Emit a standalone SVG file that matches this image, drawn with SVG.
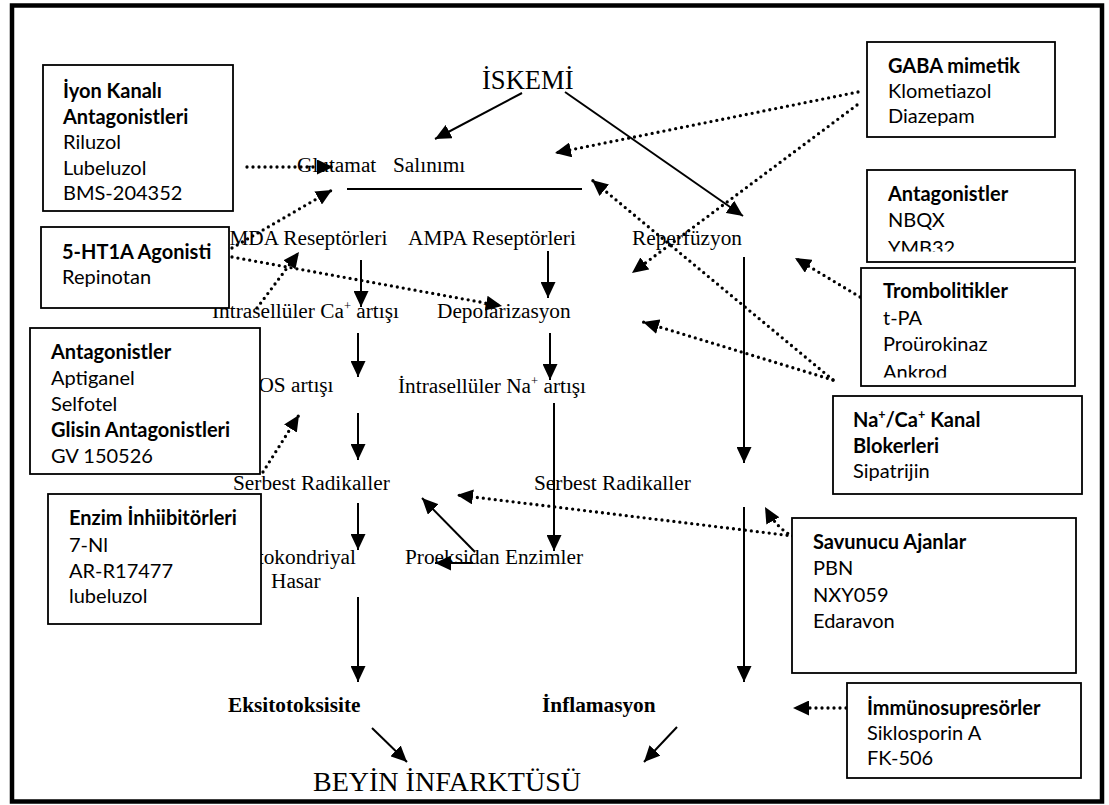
<svg xmlns="http://www.w3.org/2000/svg" width="1109" height="805" viewBox="0 0 1109 805">
<defs>
<style>
.t{font-family:"Liberation Serif","Times New Roman",serif;font-size:21.3px;fill:#000}
.tb{font-weight:bold}
.big{font-size:26.6px}
.bx rect{fill:#fff;stroke:#000;stroke-width:1.8}
.bx text{font-family:Lato,"Open Sans",sans-serif;font-size:20px;fill:#000}
.bx .h{font-weight:bold}
.sol{fill:none;stroke:#000;stroke-width:2}
.dot{fill:none;stroke:#000;stroke-width:3.3;stroke-linecap:round;stroke-dasharray:0 6}
.sup{font-size:12.5px}
</style>
<marker id="ah" markerUnits="userSpaceOnUse" markerWidth="17" markerHeight="15" refX="16" refY="7.5" orient="auto"><path d="M0,0 L16,7.5 L0,15 z" fill="#000"/></marker>
<marker id="ad" markerUnits="userSpaceOnUse" markerWidth="17" markerHeight="15" refX="16" refY="7.5" orient="auto"><path d="M0,0 L16,7.5 L0,15 z" fill="#000"/></marker>
<clipPath id="cGaba"><rect x="867" y="42" width="188" height="84.5"/></clipPath>
<clipPath id="cAnt2"><rect x="867" y="170" width="208" height="81.5"/></clipPath>
<clipPath id="cTrom"><rect x="861" y="268" width="214" height="109.5"/></clipPath>
</defs>
<rect x="12" y="5.5" width="1090" height="796" fill="#fff" stroke="#000" stroke-width="4.5"/>

<g id="n-iskemi"><text class="t big" x="482" y="89">İSKEMİ</text></g>
<g id="n-glutamat"><text class="t" y="172"><tspan x="297">Glutamat</tspan><tspan x="393">Salınımı</tspan></text></g>
<g id="n-nmda"><text class="t" x="214" y="245">NMDA Reseptörleri</text></g>
<g id="n-ampa"><text class="t" x="408" y="245">AMPA Reseptörleri</text></g>
<g id="n-reperfuzyon"><text class="t" x="632" y="245">Reperfüzyon</text></g>
<g id="n-ca"><text class="t" x="212" y="318">İntrasellüler Ca<tspan class="sup" dy="-8">+</tspan><tspan dy="8"> artışı</tspan></text></g>
<g id="n-depol"><text class="t" x="437" y="318">Depolarizasyon</text></g>
<g id="n-nos"><text class="t" x="243" y="392">NOS artışı</text></g>
<g id="n-na"><text class="t" x="398" y="393">İntrasellüler Na<tspan class="sup" dy="-8">+</tspan><tspan dy="8"> artışı</tspan></text></g>
<g id="n-serbest1"><text class="t" x="233" y="490">Serbest Radikaller</text></g>
<g id="n-serbest2"><text class="t" x="534" y="490">Serbest Radikaller</text></g>
<g id="n-mito"><text class="t" x="356" y="564" text-anchor="end">Mitokondriyal</text><text class="t" x="271" y="588">Hasar</text></g>
<g id="n-proeks"><text class="t" x="405" y="564">Proeksidan Enzimler</text></g>
<g id="n-eksito"><text class="t tb" x="228" y="712">Eksitotoksisite</text></g>
<g id="n-inflam"><text class="t tb" x="542" y="712">İnflamasyon</text></g>
<g id="n-infarkt"><text class="t" x="313" y="791" style="font-size:27px" textLength="268" lengthAdjust="spacingAndGlyphs">BEYİN İNFARKTÜSÜ</text></g>

<g id="connectors">
<line class="sol" x1="522" y1="93" x2="435" y2="139" marker-end="url(#ah)"/>
<line class="sol" x1="565" y1="92" x2="743" y2="216" marker-end="url(#ah)"/>
<line class="sol" x1="347" y1="189" x2="582" y2="189"/>
<line class="sol" x1="361" y1="260" x2="361" y2="307" marker-end="url(#ah)"/>
<line class="sol" x1="548" y1="251" x2="548" y2="298" marker-end="url(#ah)"/>
<line class="sol" x1="744" y1="257" x2="744" y2="463" marker-end="url(#ah)"/>
<line class="sol" x1="744" y1="507" x2="744" y2="682" marker-end="url(#ah)"/>
<line class="sol" x1="358" y1="333" x2="358" y2="377" marker-end="url(#ah)"/>
<line class="sol" x1="358" y1="413" x2="358" y2="460" marker-end="url(#ah)"/>
<line class="sol" x1="358" y1="503" x2="358" y2="550" marker-end="url(#ah)"/>
<line class="sol" x1="358" y1="597" x2="358" y2="682" marker-end="url(#ah)"/>
<line class="sol" x1="550" y1="333" x2="550" y2="380" marker-end="url(#ah)"/>
<line class="sol" x1="554" y1="403" x2="554" y2="551" marker-end="url(#ah)"/>
<line class="sol" x1="475" y1="552" x2="422" y2="498" marker-end="url(#ah)"/>
<line class="sol" x1="473" y1="563" x2="435" y2="563" marker-end="url(#ah)"/>
<line class="sol" x1="372" y1="728" x2="407" y2="762" marker-end="url(#ah)"/>
<line class="sol" x1="677" y1="727" x2="644" y2="762" marker-end="url(#ah)"/>

<line class="dot" x1="247" y1="167" x2="333" y2="167" marker-end="url(#ad)"/>
<line class="dot" x1="232" y1="248" x2="332" y2="190" marker-end="url(#ad)"/>
<line class="dot" x1="232" y1="257" x2="502" y2="306" marker-end="url(#ad)"/>
<line class="dot" x1="257" y1="308" x2="299" y2="252" marker-end="url(#ad)"/>
<line class="dot" x1="263" y1="472" x2="299" y2="415" marker-end="url(#ad)"/>
<line class="dot" x1="858" y1="92" x2="555" y2="153" marker-end="url(#ad)"/>
<line class="dot" x1="857" y1="105" x2="632" y2="273" marker-end="url(#ad)"/>
<line class="dot" x1="860" y1="297" x2="795" y2="258" marker-end="url(#ad)"/>
<line class="dot" x1="833" y1="380" x2="592" y2="180" marker-end="url(#ad)"/>
<line class="dot" x1="833" y1="380" x2="643" y2="322" marker-end="url(#ad)"/>
<line class="dot" x1="793" y1="536" x2="457" y2="495" marker-end="url(#ad)"/>
<path class="dot" d="M793,536 Q778,530 765,507" marker-end="url(#ad)"/>
<line class="dot" x1="846" y1="708" x2="793" y2="708" marker-end="url(#ad)"/>
</g>

<g id="b-iyon" class="bx"><rect x="43" y="65" width="190" height="146"/>
<text class="h" x="63" y="98">İyon Kanalı</text><text class="h" x="63" y="123.5">Antagonistleri</text><text x="63" y="149">Riluzol</text><text x="63" y="174.5">Lubeluzol</text><text x="63" y="200">BMS-204352</text></g>
<g id="b-5ht1a" class="bx"><rect x="41" y="227" width="188" height="81"/>
<text class="h" x="62" y="259">5-HT1A Agonisti</text><text x="62" y="284">Repinotan</text></g>
<g id="b-antag1" class="bx"><rect x="30" y="328" width="230" height="146"/>
<text class="h" x="51" y="359">Antagonistler</text><text x="51" y="385">Aptiganel</text><text x="51" y="411">Selfotel</text><text class="h" x="51" y="437">Glisin Antagonistleri</text><text x="51" y="463">GV 150526</text></g>
<g id="b-enzim" class="bx"><rect x="48" y="494" width="213" height="130"/>
<text class="h" x="69" y="525">Enzim İnhiibitörleri</text><text x="69" y="552">7-Nl</text><text x="69" y="578">AR-R17477</text><text x="69" y="603">lubeluzol</text></g>
<g id="b-gaba" class="bx"><rect x="867" y="42" width="188" height="95"/>
<g clip-path="url(#cGaba)"><text class="h" x="888" y="73">GABA mimetik</text><text x="888" y="98">Klometiazol</text><text x="888" y="123">Diazepam</text></g></g>
<g id="b-antag2" class="bx"><rect x="867" y="170" width="208" height="92"/>
<g clip-path="url(#cAnt2)"><text class="h" x="888" y="201">Antagonistler</text><text x="888" y="227">NBQX</text><text x="888" y="254.5">YMB32</text></g></g>
<g id="b-trombo" class="bx"><rect x="861" y="268" width="214" height="118"/>
<g clip-path="url(#cTrom)"><text class="h" x="883" y="298">Trombolitikler</text><text x="883" y="325">t-PA</text><text x="883" y="351">Proürokinaz</text><text x="883" y="379">Ankrod</text></g></g>
<g id="b-naca" class="bx"><rect x="833" y="396" width="249" height="98"/>
<text class="h" x="853" y="427">Na<tspan class="sup" dy="-8">+</tspan><tspan dy="8">/Ca</tspan><tspan class="sup" dy="-8">+</tspan><tspan dy="8"> Kanal</tspan></text><text class="h" x="853" y="453">Blokerleri</text><text x="853" y="478">Sipatrijin</text></g>
<g id="b-savunucu" class="bx"><rect x="792" y="518" width="284" height="155"/>
<text class="h" x="813" y="549">Savunucu Ajanlar</text><text x="813" y="575">PBN</text><text x="813" y="602">NXY059</text><text x="813" y="628">Edaravon</text></g>
<g id="b-immuno" class="bx"><rect x="847" y="683" width="234" height="95"/>
<text class="h" x="867" y="715">İmmünosupresörler</text><text x="867" y="740">Siklosporin A</text><text x="867" y="765">FK-506</text></g>
</svg>
